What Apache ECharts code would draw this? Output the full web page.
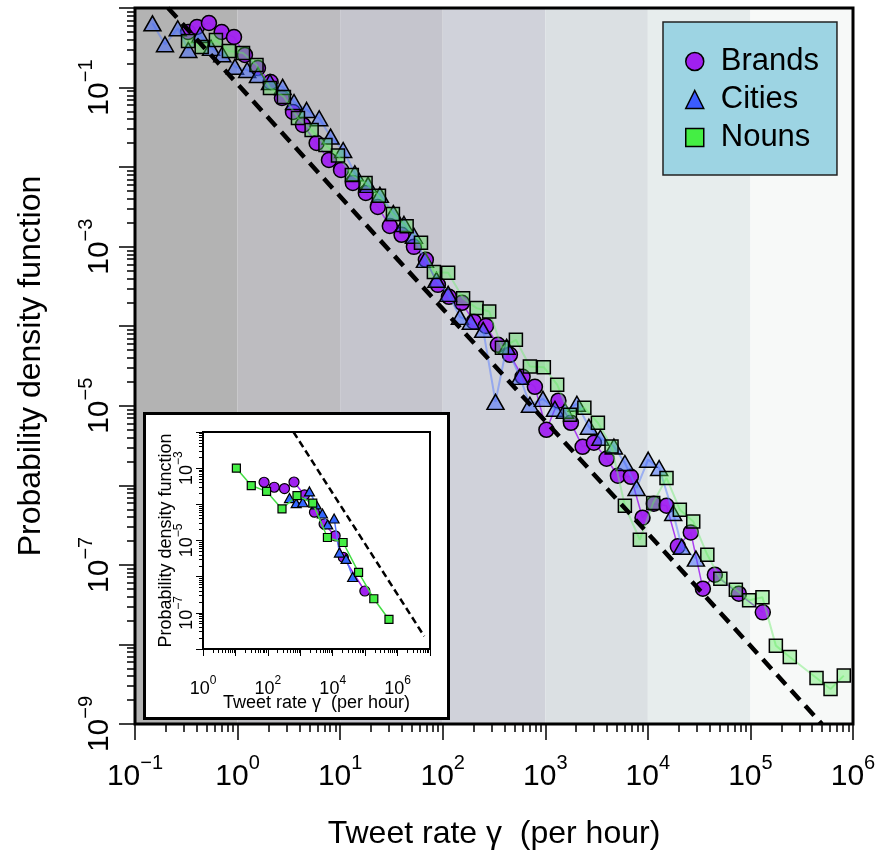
<!DOCTYPE html>
<html>
<head>
<meta charset="utf-8">
<script src="https://cdn.jsdelivr.net/npm/echarts@6/dist/echarts.min.js"></script>
<style>
html,body{margin:0;padding:0;background:#fff;}
#chart{width:879px;height:855px;}
</style>
</head>
<body>
<div id="chart"></div>
<script>
// main panel: [tweet rate (per hour), probability density]
let brands = [[0.329,0.499],[0.402,0.577],[0.526,0.648],[0.700,0.499],[0.923,0.432],[1.18,0.257],[1.58,0.176],[2.10,0.1175],[2.71,0.074],[3.47,0.0493],[4.34,0.0339],[5.90,0.0201],[7.78,0.0123],[10.2,0.00922],[13.3,0.00633],[17.8,0.00474],[23.3,0.00316],[30.5,0.00182],[39.7,0.00141],[52.4,0.000994],[68.5,0.000683],[89.8,0.000331],[115,0.000234],[154,0.000197],[201,0.000114],[264,0.000101],[345,5.84e-5],[452,4.37e-5],[601,2.31e-5],[792,1.73e-5],[1026,4.99e-6],[1343,1.16e-5],[1778,6.11e-6],[2312,3.05e-6],[2980,3.43e-6],[3958,2.16e-6],[5105,1.32e-6],[6830,1.28e-6],[8872,3.92e-7],[11430,5.87e-7],[15200,5.54e-7],[19600,1.71e-7],[26200,2.56e-7],[34400,5.02e-8],[45000,7.53e-8],[77100,4.35e-8],[132000,2.53e-8]];
let cities = [[0.148,0.642],[0.196,0.350],[0.261,0.556],[0.331,0.297],[0.431,0.458],[0.551,0.315],[0.709,0.262],[0.944,0.183],[1.24,0.166],[1.58,0.144],[2.07,0.1175],[2.75,0.1018],[3.55,0.0659],[4.71,0.0523],[6.25,0.0411],[8.07,0.0242],[10.7,0.0164],[13.9,0.00838],[18.7,0.00598],[24.4,0.00448],[33.0,0.00264],[41.9,0.00193],[52.4,0.00137],[67.1,0.000683],[86.9,0.000383],[113,0.000255],[147,0.000131],[188,0.000114],[248,9.01e-5],[327,1.12e-5],[420,5.51e-5],[565,2.31e-5],[708,1.03e-5],[948,1.22e-5],[1242,9.17e-6],[1553,8.65e-6],[2032,1.06e-5],[2661,5.45e-6],[3443,3.96e-6],[4667,3.08e-6],[5970,1.91e-6],[7763,9.25e-7],[10070,2.10e-6],[12880,1.65e-6],[17660,4.49e-7],[21400,1.69e-7],[29400,1.20e-7]];
let nouns = [[0.329,0.385],[0.447,0.324],[0.615,0.396],[0.824,0.288],[1.13,0.272],[1.53,0.192],[2.07,0.0989],[2.83,0.0762],[3.88,0.0415],[5.27,0.0293],[7.19,0.0190],[9.53,0.0140],[13.0,0.00798],[17.7,0.00633],[23.9,0.00435],[32.7,0.00258],[44.5,0.00180],[61.4,0.00112],[82.0,0.000482],[113,0.000469],[158,0.000225],[214,0.000169],[284,0.000153],[378,5.36e-5],[517,6.75e-5],[708,3.12e-5],[968,3.06e-5],[1306,1.84e-5],[1738,7.71e-6],[2404,9.44e-6],[3258,6.11e-6],[4425,3.08e-6],[5970,5.54e-7],[8356,2.07e-7],[11270,6.00e-7],[15200,1.24e-6],[20500,4.94e-7],[27700,3.52e-7],[38000,1.34e-7],[50900,6.71e-8],[72100,4.88e-8],[97100,3.60e-8],[131000,3.91e-8],[177000,9.66e-9],[242000,6.97e-9],[441000,3.79e-9],[604000,2.76e-9],[813000,4.06e-9]];

// inset panel
let brandsInset = [[76.4,4.08e-4],[157,2.97e-4],[326,2.73e-4],[640,4.14e-4],[1346,1.82e-4],[2735,6.07e-5],[5430,2.86e-5],[11900,1.35e-5],[21300,3.41e-6],[97900,4.01e-7]];
let citiesInset = [[465,1.49e-4],[748,1.08e-4],[1194,1.14e-4],[1919,2.28e-4],[3084,9.93e-5],[4819,5.58e-5],[7015,2.78e-5],[11050,4.06e-5],[16070,4.64e-6],[25830,3.10e-6],[41200,9.82e-7]];
let nounsInset = [[10.7,1.0e-3],[30.8,3.31e-4],[91.2,2.28e-4],[273,7.45e-5],[791,1.75e-4],[2425,1.08e-4],[6870,1.21e-5],[20900,8.80e-6],[62700,1.32e-6],[185000,2.45e-7],[543000,6.56e-8]];

// dashed power-law guides (end points where they meet the frame)
let guideMain = [[0.21,1],[4.97e5,1e-9]];
let guideInset = [[617,1e-2],[6.64e6,2.25e-8]];

// shaded decades behind the main panel
let bandEdges = [0.1,1,10,100,1e3,1e4,1e5,1e6];

// tick labels
let xLabelsMain = [0.1,1,10,100,1e3,1e4,1e5,1e6];
let yLabelsMain = [1e-1,1e-3,1e-5,1e-7,1e-9];
let xLabelsInset = [1,1e2,1e4,1e6];
let yLabelsInset = [1e-3,1e-5,1e-7];

const FONT = "'Liberation Sans', Arial, Helvetica, sans-serif";
const bandColors = ['#b3b3b3','#bdbcc0','#c5c5cd','#d0d2da','#dbe0e3','#e7eded','#f7f9f8'];

let decades = (lo,hi)=>{
    let out = [];
    for (let k=lo;k<=hi;k++) out.push(Number('1e'+k));
    return out;
};
let minors = (lo,hi)=>{
    let out = [];
    for (let k=lo;k<hi;k++) for (let m=2;m<=9;m++) out.push(m*Number('1e'+k));
    return out;
};
let powLabel = (v)=>{
    let e = Math.round(Math.log10(v));
    return '{b|10}{e|' + (e<0?'\u2212':'') + Math.abs(e) + '}';
};
let supRich = (big,small)=>({
    b:{fontSize:big,fontFamily:FONT,color:'#000',verticalAlign:'bottom',lineHeight:Math.round(big*1.3)},
    e:{fontSize:small,fontFamily:FONT,color:'#000',verticalAlign:'top',lineHeight:small}
});

// one log axis, either the labelled/major one or a bare minor-tick copy
let logAxis = (o)=>{
    let ax = {
        type:'log', logBase:10, gridIndex:o.grid, position:o.pos, min:o.min, max:o.max,
        z:o.z||0, silent:true,
        splitLine:{show:false}, minorTick:{show:false}, axisLine:{show:false},
        axisTick:{show:true, inside:false, customValues:o.ticks, length:o.len,
            lineStyle:{color:'#000', width:o.tw||1.5}},
        axisLabel:{show:false}
    };
    if (o.labels) {
        ax.axisLabel = {show:true, customValues:o.labels, formatter:powLabel,
            margin:o.margin, rotate:o.rotate||0, rich:supRich(o.fs,o.sfs)};
    }
    if (o.name) {
        ax.name = o.name; ax.nameLocation = 'middle'; ax.nameGap = o.nameGap;
        ax.nameMoveOverlap = false;
        ax.nameTextStyle = {fontSize:o.nfs, fontFamily:FONT, color:'#000'};
    }
    return ax;
};

let chart = echarts.init(document.getElementById('chart'), null, {renderer:'canvas'});

let option = {
    animation:false,
    backgroundColor:'#fff',
    textStyle:{fontFamily:FONT},
    grid:[
        {left:135, top:8, right:26, bottom:131, show:true, backgroundColor:'transparent',
            borderColor:'#000', borderWidth:3, z:10, outerBoundsMode:'none'},
        {left:203, top:432, width:227, height:217, show:true, backgroundColor:'transparent',
            borderColor:'#000', borderWidth:2, z:60, outerBoundsMode:'none'}
    ],
    xAxis:[
        logAxis({grid:0,pos:'bottom',min:0.1,max:1e6,ticks:decades(-1,6),len:16,labels:xLabelsMain,
            margin:29,fs:30,sfs:20,name:'Tweet rate \u03b3  (per hour)',nameGap:94,nfs:32}),
        logAxis({grid:0,pos:'bottom',min:0.1,max:1e6,ticks:minors(-1,6),len:8}),
        logAxis({grid:1,pos:'bottom',min:1,max:1e7,ticks:decades(0,7),len:7,tw:1,z:62,labels:xLabelsInset,
            margin:26,fs:18,sfs:12,name:'Tweet rate \u03b3  (per hour)',nameGap:45,nfs:18}),
        logAxis({grid:1,pos:'bottom',min:1,max:1e7,ticks:minors(0,7),len:4,tw:1,z:62})
    ],
    yAxis:[
        logAxis({grid:0,pos:'left',min:1e-9,max:1,ticks:decades(-9,0),len:16,labels:yLabelsMain,
            margin:20,rotate:90,fs:30,sfs:20,name:'Probability density function',nameGap:88,nfs:32}),
        logAxis({grid:0,pos:'left',min:1e-9,max:1,ticks:minors(-9,0),len:8}),
        logAxis({grid:1,pos:'left',min:1e-8,max:1e-2,ticks:decades(-8,-2),len:7,tw:1,z:62,labels:yLabelsInset,
            margin:7,rotate:90,fs:18,sfs:12,name:'Probability density function',nameGap:28,nfs:18}),
        logAxis({grid:1,pos:'left',min:1e-8,max:1e-2,ticks:minors(-8,-2),len:4,tw:1,z:62})
    ],
    legend:{
        orient:'vertical', left:663, top:22, z:70, selectedMode:false,
        backgroundColor:'#9dd4e3', borderColor:'#222', borderWidth:1.5, borderRadius:0,
        padding:[22,18,20,22], itemGap:3, itemWidth:18, itemHeight:18,
        textStyle:{fontSize:31, fontFamily:FONT, color:'#000', lineHeight:35, padding:[0,0,0,12]},
        data:[
            {name:'Brands', icon:'circle', itemStyle:{color:'#a020f0', borderColor:'#000', borderWidth:1.5, opacity:1}},
            {name:'Cities', icon:'triangle', itemStyle:{color:'#3b5cff', borderColor:'#000', borderWidth:1.5, opacity:1}},
            {name:'Nouns', icon:'rect', itemStyle:{color:'#44ee44', borderColor:'#000', borderWidth:1.5, opacity:1}}
        ]
    },
    graphic:[
        {type:'rect', left:143, top:412, z:50, silent:true,
            shape:{width:304, height:305},
            style:{fill:'#fff', stroke:'#000', lineWidth:3}}
    ],
    series:[
        {
            name:'bands', type:'line', xAxisIndex:0, yAxisIndex:0, data:[], z:1, silent:true,
            markArea:{silent:true,
                data: bandEdges.slice(0,-1).map((e,i)=>[
                    {xAxis:e, itemStyle:{color:bandColors[i], opacity:1}},
                    {xAxis:bandEdges[i+1]}
                ])}
        },
        {
            name:'Brands', type:'line', xAxisIndex:0, yAxisIndex:0, data:brands, z:3,
            symbol:'circle', symbolSize:15, emphasis:{disabled:true},
            itemStyle:{color:'rgba(160,32,240,0.95)', borderColor:'#000', borderWidth:1.5},
            lineStyle:{color:'rgba(160,32,240,0.85)', width:1.5}
        },
        {
            name:'Cities', type:'line', xAxisIndex:0, yAxisIndex:0, data:cities, z:4,
            symbol:'triangle', symbolSize:[17,15], emphasis:{disabled:true},
            itemStyle:{color:'rgba(60,100,255,0.5)', borderColor:'#000', borderWidth:1.5},
            lineStyle:{color:'rgba(90,125,255,0.5)', width:2}
        },
        {
            name:'Nouns', type:'line', xAxisIndex:0, yAxisIndex:0, data:nouns, z:5,
            symbol:'rect', symbolSize:13, emphasis:{disabled:true},
            itemStyle:{color:'rgba(80,235,80,0.38)', borderColor:'#000', borderWidth:1.5},
            lineStyle:{color:'rgba(110,235,110,0.45)', width:2}
        },
        {
            name:'guide', type:'line', xAxisIndex:0, yAxisIndex:0, data:guideMain, z:6,
            symbol:'none', silent:true,
            lineStyle:{color:'#000', width:4.5, type:[13,8]}
        },
        {
            name:'Brands inset', type:'line', xAxisIndex:2, yAxisIndex:2, data:brandsInset, z:61,
            symbol:'circle', symbolSize:10, emphasis:{disabled:true},
            itemStyle:{color:'#a020f0', borderColor:'#000', borderWidth:1.2},
            lineStyle:{color:'#a020f0', width:1.5}
        },
        {
            name:'Cities inset', type:'line', xAxisIndex:2, yAxisIndex:2, data:citiesInset, z:62,
            symbol:'triangle', symbolSize:[10,9], emphasis:{disabled:true},
            itemStyle:{color:'#3366ff', borderColor:'#000', borderWidth:1.2},
            lineStyle:{color:'#5577ff', width:1.5}
        },
        {
            name:'Nouns inset', type:'line', xAxisIndex:2, yAxisIndex:2, data:nounsInset, z:63,
            symbol:'rect', symbolSize:8, emphasis:{disabled:true},
            itemStyle:{color:'#44ee44', borderColor:'#000', borderWidth:1.2},
            lineStyle:{color:'#44dd44', width:1.5}
        },
        {
            name:'guide inset', type:'line', xAxisIndex:2, yAxisIndex:2, data:guideInset, z:64,
            symbol:'none', silent:true,
            lineStyle:{color:'#000', width:2.5, type:[7,4]}
        }
    ]
};

chart.setOption(option);
</script>
</body>
</html>
